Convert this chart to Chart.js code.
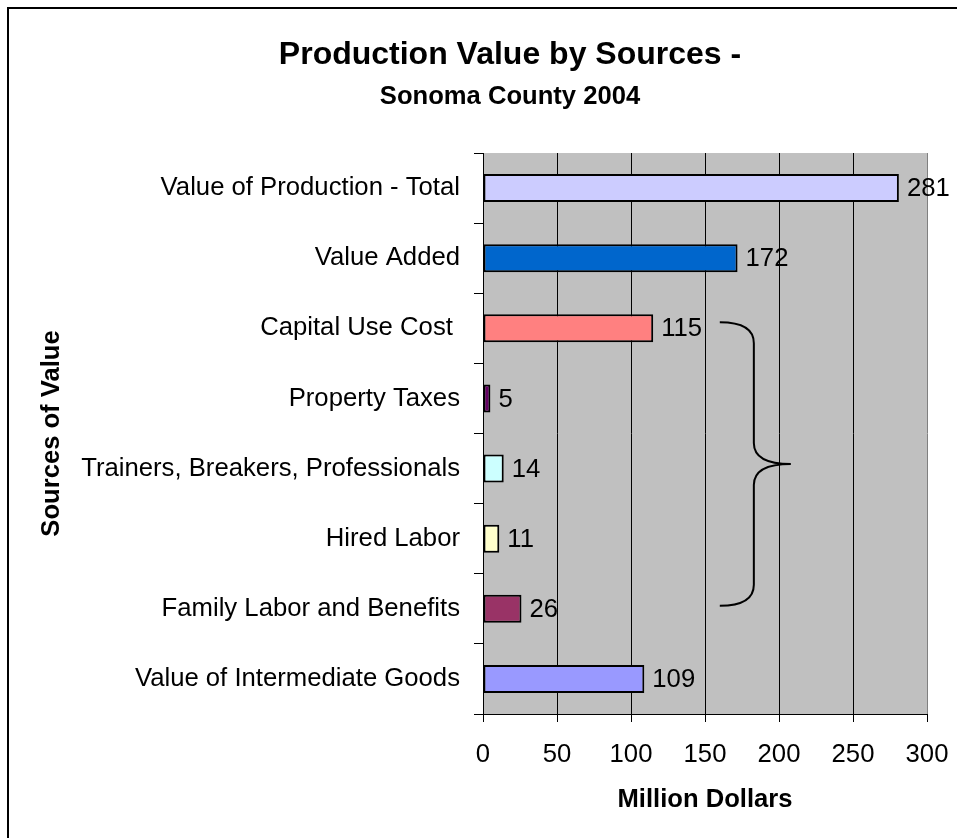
<!DOCTYPE html>
<html>
<head>
<meta charset="utf-8">
<title>Production Value by Sources - Sonoma County 2004</title>
<script src="https://cdn.jsdelivr.net/npm/chart.js@4"></script>
<style>
  html, body { margin: 0; padding: 0; background: #fff; overflow: hidden; }
  #chart { display: block; }
</style>
</head>
<body>
<canvas id="chart" width="1020" height="838"></canvas>
<script>
// data (million dollars)
const categories = [
    'Value of Production - Total',
    'Value Added',
    'Capital Use Cost ',
    'Property Taxes',
    'Trainers, Breakers, Professionals',
    'Hired Labor',
    'Family Labor and Benefits',
    'Value of Intermediate Goods'
];
const values = [281, 172, 115, 5, 14, 11, 26, 109];
const barColors = ['#CCCCFF', '#0066CC', '#FF8080', '#660066', '#CCFFFF', '#FFFFCC', '#993366', '#9999FF'];
const xTicks = [0, 50, 100, 150, 200, 250, 300];

// brace grouping the value-added components
const braceFrom = 2;  // Capital Use Cost
const braceTo = 6;    // Family Labor and Benefits
const braceX = [160, 183, 208]; // ends, spine, tip (in data units)

const FONT = "'Liberation Sans', Arial, sans-serif";

// grey plot background + outer frame
const backdrop = {
    id: 'backdrop',
    beforeDraw(chart) {
        const ctx = chart.ctx;
        const a = chart.chartArea;
        ctx.save();
        ctx.fillStyle = '#C0C0C0';
        ctx.fillRect(a.left, a.top, a.right - a.left, a.bottom - a.top);
        ctx.strokeStyle = '#000';
        ctx.lineWidth = 2;
        ctx.strokeRect(8, 8, 1004, 900);
        ctx.restore();
    }
};

// value labels at the end of each bar
const barLabels = {
    id: 'barLabels',
    afterDatasetsDraw(chart) {
        const ctx = chart.ctx;
        const meta = chart.getDatasetMeta(0);
        ctx.save();
        ctx.font = '25.7px ' + FONT;
        ctx.fillStyle = '#000';
        ctx.textAlign = 'left';
        ctx.textBaseline = 'middle';
        meta.data.forEach((bar, i) => {
            ctx.fillText(String(values[i]), bar.x + 8, bar.y + 1);
        });
        ctx.restore();
    }
};

// curly brace
const brace = {
    id: 'brace',
    afterDatasetsDraw(chart) {
        const ctx = chart.ctx;
        const xs = chart.scales.x;
        const ys = chart.scales.y;
        const x0 = xs.getPixelForValue(braceX[0]);
        const x1 = xs.getPixelForValue(braceX[1]);
        const x2 = xs.getPixelForValue(braceX[2]);
        const yTop = ys.getPixelForValue(braceFrom) - 6;
        const yBot = ys.getPixelForValue(braceTo) - 3;
        const yMid = (yTop + yBot) / 2;
        const r = 21;
        ctx.save();
        ctx.strokeStyle = '#000';
        ctx.lineWidth = 2;
        ctx.beginPath();
        ctx.moveTo(x0, yTop);
        ctx.quadraticCurveTo(x1, yTop, x1, yTop + r);
        ctx.lineTo(x1, yMid - r);
        ctx.quadraticCurveTo(x1, yMid, x2, yMid);
        ctx.quadraticCurveTo(x1, yMid, x1, yMid + r);
        ctx.lineTo(x1, yBot - r);
        ctx.quadraticCurveTo(x1, yBot, x0, yBot);
        ctx.stroke();
        ctx.restore();
    }
};

new Chart(document.getElementById('chart'), {
    type: 'bar',
    data: {
        labels: categories,
        datasets: [{
            data: values,
            backgroundColor: barColors,
            borderColor: '#000',
            borderWidth: 2,
            borderSkipped: false,
            barPercentage: 0.4,
            categoryPercentage: 1
        }]
    },
    options: {
        indexAxis: 'y',
        responsive: false,
        animation: false,
        layout: { padding: 0 },
        plugins: {
            legend: { display: false },
            tooltip: { enabled: false },
            title: {
                display: true,
                text: 'Production Value by Sources -',
                color: '#000',
                font: { family: FONT, size: 32, weight: 'bold' },
                padding: { top: 36, bottom: 0 }
            },
            subtitle: {
                display: true,
                text: 'Sonoma County 2004',
                color: '#000',
                font: { family: FONT, size: 25.6, weight: 'bold' },
                padding: { top: 7, bottom: 40.9 }
            }
        },
        scales: {
            x: {
                min: 0,
                max: 300,
                afterBuildTicks(scale) {
                    scale.ticks = xTicks.map(v => ({ value: v }));
                },
                afterFit(scale) { scale.height = 124; },
                ticks: {
                    color: '#000',
                    font: { family: FONT, size: 25.7 },
                    padding: 17
                },
                grid: {
                    color: ctx => (ctx.tick && ctx.tick.value === 300 ? '#808080' : '#000'),
                    tickColor: '#000',
                    tickLength: 8,
                    lineWidth: 1
                },
                border: { color: '#000', width: 1 },
                title: {
                    display: true,
                    text: 'Million Dollars',
                    color: '#000',
                    font: { family: FONT, size: 25.6, weight: 'bold' },
                    padding: { top: 0, bottom: 23 }
                }
            },
            y: {
                afterFit(scale) { scale.width = 483; },
                ticks: {
                    color: '#000',
                    font: { family: FONT, size: 25.7 },
                    padding: 14
                },
                grid: {
                    offset: true,
                    drawOnChartArea: false,
                    color: '#000',
                    tickLength: 9
                },
                border: { color: '#000', width: 1 },
                title: {
                    display: true,
                    text: 'Sources of Value',
                    color: '#000',
                    font: { family: FONT, size: 25.6, weight: 'bold' },
                    padding: { top: 37, bottom: 0 }
                }
            },
            // empty right margin so the title stays centred on the whole frame
            margin: {
                type: 'linear',
                position: 'right',
                afterFit(scale) { scale.width = 93; },
                grid: { display: false },
                border: { display: false },
                ticks: { display: false }
            }
        }
    },
    plugins: [backdrop, barLabels, brace]
});
</script>
</body>
</html>
